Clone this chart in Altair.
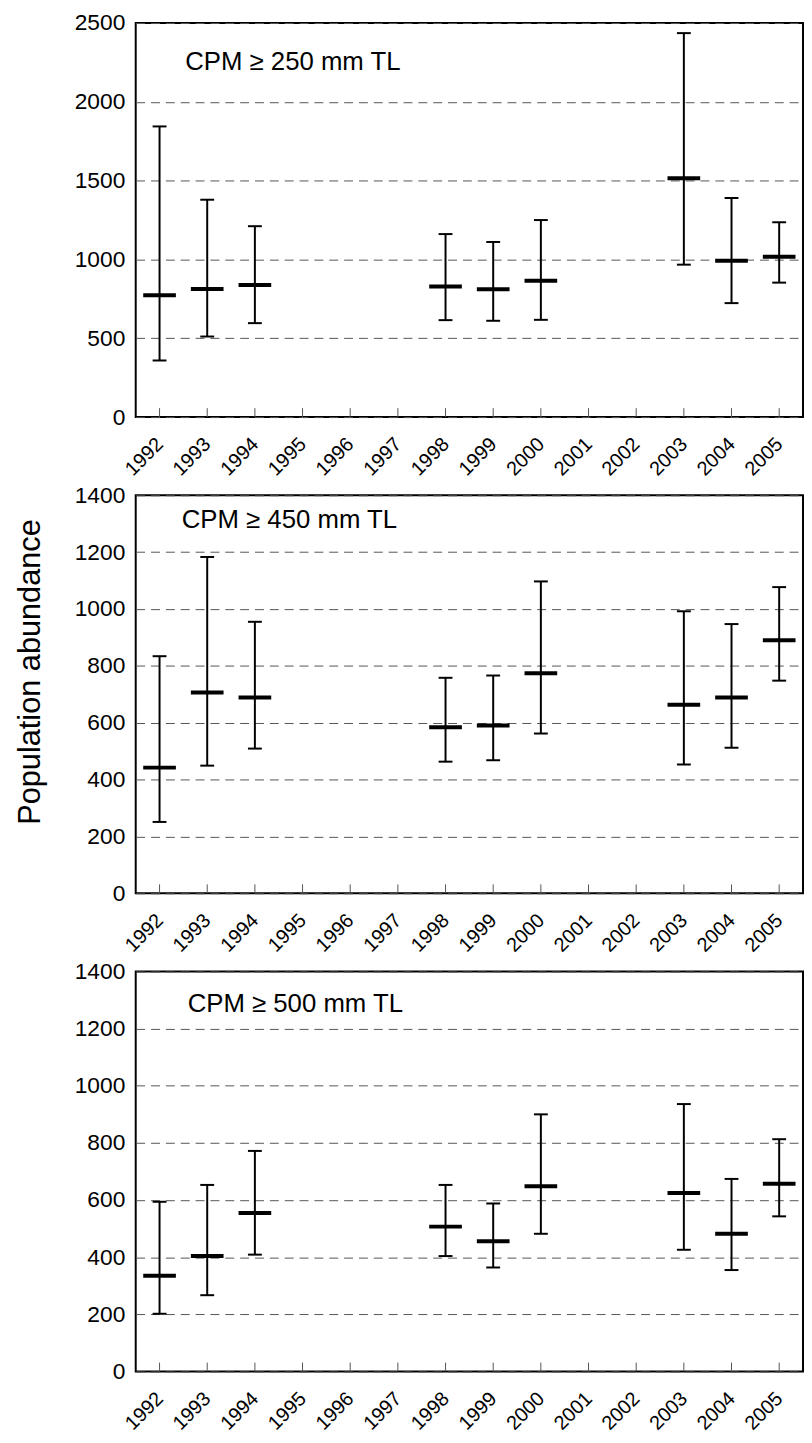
import altair as alt
import pandas as pd

FONT = "Liberation Sans"

years = ["1992", "1993", "1994", "1995", "1996", "1997", "1998",
         "1999", "2000", "2001", "2002", "2003", "2004", "2005"]
data_years = ["1992", "1993", "1994", "1998", "1999", "2000", "2003", "2004", "2005"]

p1_mean = [773, 813, 838, 829, 811, 865, 1515, 992, 1017]
p1_lower = [359, 511, 596, 615, 611, 617, 967, 723, 853]
p1_upper = [1844, 1379, 1211, 1161, 1111, 1250, 2436, 1390, 1236]

p2_mean = [442, 706, 689, 584, 590, 774, 663, 689, 890]
p2_lower = [251, 449, 509, 463, 468, 562, 453, 512, 748]
p2_upper = [834, 1183, 955, 758, 766, 1097, 992, 947, 1077]

p3_mean = [335, 404, 555, 507, 456, 648, 625, 482, 657]
p3_lower = [202, 267, 409, 404, 364, 482, 426, 355, 543]
p3_upper = [594, 653, 772, 653, 588, 900, 936, 674, 813]

labels = ["CPM \u2265 250 mm TL", "CPM \u2265 450 mm TL", "CPM \u2265 500 mm TL"]

W = 674
xscale = alt.Scale(type="point", domain=years, padding=0.5)


def panel(mean, lower, upper, ymax, step, H, label, tx, ty, title="", title_y=None):
    df = pd.DataFrame({"year": data_years, "mean": mean, "lower": lower, "upper": upper})
    tick_df = pd.DataFrame({"year": years})
    yscale = alt.Scale(domain=[0, ymax], nice=False, zero=True)

    ykw = dict(
        title=title, titleFont=FONT, titleFontSize=31,
        titleFontWeight="normal", titleColor="black", titlePadding=28,
        values=list(range(0, ymax + 1, step)), format="d",
        grid=True, gridDash=[9, 6], gridColor="#555555", gridWidth=1,
        ticks=False, domain=False,
        labelFont=FONT, labelFontSize=23, labelColor="black", labelPadding=11,
    )
    if title_y is not None:
        ykw["titleY"] = title_y
    yaxis = alt.Axis(**ykw)
    xaxis = alt.Axis(title="", labelAngle=-45, labelAlign="right",
                     labelBaseline="middle", labelFont=FONT, labelFontSize=20,
                     labelColor="black", labelPadding=24, ticks=False,
                     domain=False, grid=False)

    X = alt.X("year:O", scale=xscale, axis=xaxis)

    xticks = alt.Chart(tick_df).mark_rule(color="#555555", strokeWidth=1).encode(
        x=X,
        y=alt.value(H),
        y2=alt.value(H - 9),
    )
    bars = alt.Chart(df).mark_rule(color="black", strokeWidth=2).encode(
        x=X,
        y=alt.Y("lower:Q", scale=yscale, axis=yaxis),
        y2="upper:Q",
    )
    cap_lo = alt.Chart(df).mark_tick(color="black", size=14, thickness=2).encode(
        x=X,
        y=alt.Y("lower:Q", scale=yscale, axis=yaxis),
    )
    cap_hi = alt.Chart(df).mark_tick(color="black", size=14, thickness=2).encode(
        x=X,
        y=alt.Y("upper:Q", scale=yscale, axis=yaxis),
    )
    means = alt.Chart(df).mark_tick(color="black", size=33, thickness=4).encode(
        x=X,
        y=alt.Y("mean:Q", scale=yscale, axis=yaxis),
    )
    txt = alt.Chart(pd.DataFrame({"t": [label]})).mark_text(
        align="left", baseline="alphabetic", font=FONT, fontSize=26, color="black"
    ).encode(text="t:N", x=alt.value(tx), y=alt.value(ty))

    return alt.layer(xticks, bars, cap_lo, cap_hi, means, txt).properties(width=W, height=H)


c1 = panel(p1_mean, p1_lower, p1_upper, 2500, 500, 398, labels[0], 50, 47.5)
c2 = panel(p2_mean, p2_lower, p2_upper, 1400, 200, 402, labels[1], 46.5, 32.7,
           title="Population abundance", title_y=178)
c3 = panel(p3_mean, p3_lower, p3_upper, 1400, 200, 404, labels[2], 52.5, 41)

chart = alt.vconcat(c1, c2, c3, spacing=3).properties(
    padding={"left": 5, "top": -4, "right": 0, "bottom": -4},
    background="white",
).configure_view(stroke="black", strokeWidth=2).configure_tick(opacity=1)

chart.save("out.html", embed_options={"renderer": "svg", "actions": False})
